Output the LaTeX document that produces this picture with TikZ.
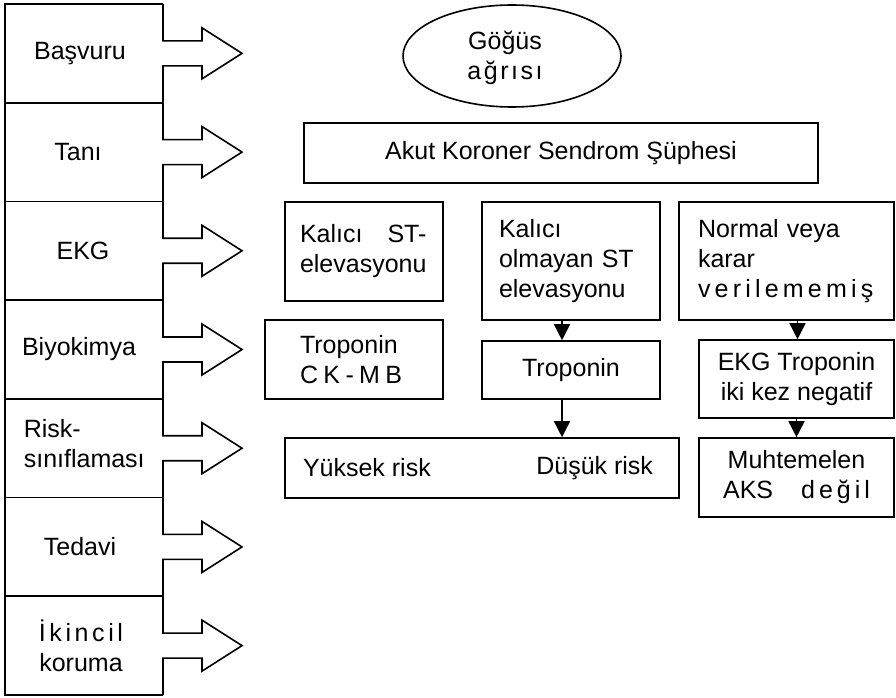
\documentclass[tikz,border=0pt]{standalone}
\usepackage{fontspec}
\setmainfont{Liberation Sans}
\usetikzlibrary{arrows.meta,shapes.geometric}
\begin{document}
\begin{tikzpicture}[x=1pt,y=-1pt,line width=1.6pt,line join=miter,
  every node/.style={font=\fontsize{25}{30}\selectfont,inner sep=0pt},
  box/.style={draw,rectangle,inner sep=0pt},
  tip/.style={-{Triangle[length=16pt,width=16pt]}}]
\useasboundingbox (0,0) rectangle (896,698);

% left column outline with block arrows
\draw (163,4) -- (5,4) -- (5,695) -- (163,695);
\foreach \k in {1,...,6} \draw (5,{4+98.714*\k}) -- (163,{4+98.714*\k});
\foreach \k in {0,...,6}{
  \pgfmathsetmacro\yt{4+98.714*\k}
  \pgfmathsetmacro\yb{4+98.714*(\k+1)}
  \pgfmathsetmacro\cc{(\yt+\yb)/2}
  \draw (163,\yt) -- (163,{\cc-12.5}) -- (202,{\cc-12.5}) -- (202,{\cc-25.5})
    -- (242,\cc) -- (202,{\cc+25.5}) -- (202,{\cc+12.5}) -- (163,{\cc+12.5}) -- (163,\yb);
}

% left column labels
\node (r1) at (80,53.4) {Başvuru};
\node (r2) at (78,152.1) {Tanı};
\node (r3) at (83,250.8) {EKG};
\node (r4) at (79,349.5) {Biyokimya};
\node[anchor=west,align=left] (r5) at (23,444) {Risk-\\sınıflaması};
\node (r6) at (80,546.9) {Tedavi};
\node[align=center] (r7) at (81,645.6) {İ\kern3.6pt k\kern3.6pt i\kern3.6pt n\kern3.6pt c\kern3.6pt i\kern3.6pt l\\koruma};

% flow chart
\node[draw,ellipse,minimum width=218pt,minimum height=102pt,inner sep=0pt] (cp) at (512,56) {};
\node[align=center] (cpt) at (505,57.5) {Göğüs\\a\kern2.5pt ğ\kern2.5pt r\kern2.5pt ı\kern2.5pt s\kern2.5pt ı};

\node[box,minimum width=514pt,minimum height=60pt] (acs) at (561,153) {Akut Koroner Sendrom Şüphesi};

\node[box,minimum width=158pt,minimum height=99pt,text width=128pt,align=left] (ste) at (364,251.5)
  {Kalıcı\hspace*{25pt}ST-\\elevasyonu};
\node[box,minimum width=178pt,minimum height=118pt,text width=144pt,align=left] (nste) at (571,261)
  {Kalıcı\\olmayan ST\\elevasyonu};
\node[box,minimum width=215pt,minimum height=118pt,text width=177pt,align=left] (norm) at (786.5,261)
  {Normal veya\\karar\\v\kern4.2pt e\kern4.2pt r\kern4.2pt i\kern4.2pt l\kern4.2pt e\kern4.2pt m\kern4.2pt e\kern4.2pt m\kern4.2pt i\kern4.2pt ş};

\node[box,minimum width=178pt,minimum height=79pt,text width=108pt,align=left] (tck) at (354,359.5)
  {Troponin\\C\kern5.4pt K\kern5.4pt -\kern5.4pt M\kern5.4pt B};
\node[box,minimum width=178pt,minimum height=58pt] (trop) at (571,370) {Troponin};

\node[box,minimum width=394pt,minimum height=60pt] (risk) at (482,468) {};
\node[anchor=west] (yr) at ([xshift=18pt]risk.west) {Yüksek risk};
\node[anchor=east] (dr) at ([xshift=-26pt]risk.east) {Düşük risk};

\node[box,minimum width=195pt,minimum height=78pt,align=center] (ekgt) at (796.5,379)
  {EKG Troponin\\iki kez negatif};
\node[box,minimum width=195pt,minimum height=79pt,align=center] (muht) at (796.5,477.5)
  {Muhtemelen\\AKS\hspace*{28pt}d\kern4pt e\kern4pt ğ\kern4pt i\kern4pt l};

% connectors
\draw[tip] ([xshift=-9pt]nste.south) -- ([xshift=-9pt]nste.south |- trop.north);
\draw[tip] ([xshift=-9pt]trop.south) -- ([xshift=-9pt]trop.south |- risk.north);
\draw[tip] ([xshift=11pt]norm.south) -- ([xshift=11pt]norm.south |- ekgt.north);
\draw[tip] (ekgt.south) -- (muht.north);
\end{tikzpicture}
\end{document}
